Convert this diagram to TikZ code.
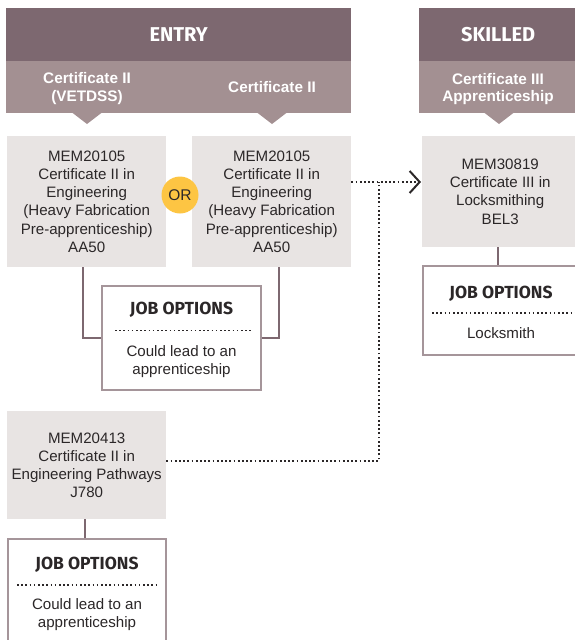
\documentclass[tikz,border=0pt]{standalone}
\usepackage{fontspec}
\setmainfont{Liberation Sans}
\newfontfamily\headfont{Fira Sans}
\usetikzlibrary{arrows.meta}
\definecolor{darkhead}{HTML}{7D6870}
\definecolor{lighthead}{HTML}{A39092}
\definecolor{boxfill}{HTML}{E8E4E3}
\definecolor{jobborder}{HTML}{A5959A}
\definecolor{connc}{HTML}{7D6870}
\definecolor{orcol}{HTML}{FDC543}
\definecolor{txt}{HTML}{2B2728}
\tikzset{
  headbox/.style={fill=darkhead, draw=none, anchor=north west, inner sep=0pt, text=white,
    font=\headfont\bfseries\fontsize{20}{22}\selectfont},
  bandbox/.style={fill=lighthead, draw=none, anchor=north west, inner sep=0pt},
  bandtext/.style={text=white, align=center, inner sep=0pt, font=\bfseries\fontsize{15.3}{17.5}\selectfont},
  gbox/.style={fill=boxfill, draw=none, anchor=north west, inner sep=0pt, text=txt, align=center,
    font=\fontsize{15.1}{18.1}\selectfont},
  jobbox/.style={draw=jobborder, line width=2pt, fill=white, anchor=north west, inner sep=0pt},
  jobtitle/.style={text=txt, inner sep=0pt, font=\headfont\bfseries\fontsize{17.5}{20}\selectfont},
  jobtext/.style={text=txt, inner sep=0pt, align=center, font=\fontsize{15.1}{18}\selectfont},
  sepdots/.style={draw=txt, line width=1.5pt, dash pattern=on 1.5pt off 2.7pt},
  conn/.style={draw=connc, line width=2pt},
  dotline/.style={draw=txt, line width=1.8pt, dash pattern=on 1.8pt off 2.4pt},
  ornode/.style={circle, fill=orcol, minimum size=37pt, inner sep=0pt, text=txt, font=\fontsize{15.5}{18}\selectfont},
}
\begin{document}
\begin{tikzpicture}[x=1pt, y=-1pt]
\useasboundingbox (0,0) rectangle (574,640);

% ENTRY header
\node[headbox, minimum width=345pt, minimum height=53pt] (ehead) at (6,8) {ENTRY};
\node[bandbox, minimum width=345pt, minimum height=52pt] (eband) at (6,61) {};
\fill[lighthead] (72,112.5) -- (102,112.5) -- (87,124) -- cycle;
\fill[lighthead] (257,112.5) -- (287,112.5) -- (272,124) -- cycle;
\node[bandtext] (eb1) at (87,88.5) {Certificate II\\(VETDSS)};
\node[bandtext] (eb2) at (272,87.5) {Certificate II};

% SKILLED header
\node[headbox, minimum width=160pt, minimum height=53pt] (shead) at (419,8) {\hspace*{-2pt}SKILLED};
\node[bandbox, minimum width=160pt, minimum height=52pt] (sband) at (419,61) {};
\fill[lighthead] (484,112.5) -- (514,112.5) -- (499,124) -- cycle;
\node[bandtext] (sb1) at (498,89) {Certificate III\\Apprenticeship};

% Entry boxes
\node[gbox, minimum width=159pt, minimum height=131pt] (e1) at (7,136)
  {MEM20105\\Certificate II in\\Engineering\\(Heavy Fabrication\\Pre-apprenticeship)\\AA50};
\node[gbox, minimum width=159pt, minimum height=131pt] (e2) at (192,136)
  {MEM20105\\Certificate II in\\Engineering\\(Heavy Fabrication\\Pre-apprenticeship)\\AA50};
\node[ornode] (or) at (180,195) {OR};

% Skilled box
\node[gbox, minimum width=156pt, minimum height=111pt] (sk) at (422,136)
  {MEM30819\\Certificate III in\\Locksmithing\\BEL3};

% Bottom entry box
\node[gbox, minimum width=159pt, minimum height=108pt] (bot) at (7,411)
  {MEM20413\\Certificate II in\\Engineering Pathways\\J780};

% Connectors to job boxes (drawn first)
\coordinate (c1) at (83,338);
\coordinate (c2) at (279,338);

% Job options box 1
\draw[conn] (e1.south -| c1) -- (c1) -- (160,338);
\draw[conn] (e2.south -| c2) -- (c2) -- (200,338);
\node[jobbox, minimum width=159pt, minimum height=104pt] (j1) at (101,285) {};
\node[jobtitle] (j1t) at ([yshift=-25pt]j1.north) {JOB OPTIONS};
\draw[sepdots] ([xshift=14pt,yshift=-45.5pt]j1.north west) -- ([xshift=-9pt,yshift=-45.5pt]j1.north east);
\node[jobtext] (j1x) at ([yshift=-76.5pt]j1.north) {Could lead to an\\apprenticeship};

% Skilled job box
\coordinate (c4) at (498,266);
\draw[conn] (sk.south -| c4) -- (c4);
\node[jobbox, minimum width=160pt, minimum height=89pt] (j2) at (422,265) {};
\node[jobtitle] (j2t) at ([xshift=-2pt,yshift=-28.5pt]j2.north) {JOB OPTIONS};
\draw[sepdots] ([xshift=10pt,yshift=-48pt]j2.north west) -- ([xshift=-6pt,yshift=-48pt]j2.north east);
\node[jobtext] (j2x) at ([xshift=-2pt,yshift=-68.5pt]j2.north) {Locksmith};

% Bottom job box
\coordinate (c3) at (85,538);
\draw[conn] (bot.south -| c3) -- (c3);
\node[jobbox, minimum width=158pt, minimum height=125pt] (j3) at (7,538) {};
\node[jobtitle] (j3t) at ([yshift=-27pt]j3.north) {JOB OPTIONS};
\draw[sepdots] ([xshift=10pt,yshift=-47pt]j3.north west) -- ([xshift=-8pt,yshift=-47pt]j3.north east);
\node[jobtext] (j3x) at ([yshift=-76.5pt]j3.north) {Could lead to an\\apprenticeship};

% Dotted pathway
\coordinate (jn) at (379,182);
\coordinate (jb) at (379,461);
\draw[dotline, -{Straight Barb[length=10pt,width=22pt,line width=2pt]}] (e2.east |- jn) -- ([xshift=-1pt]sk.west |- jn);
\draw[dotline] (bot.east |- jb) -| (jn);
\end{tikzpicture}
\end{document}
